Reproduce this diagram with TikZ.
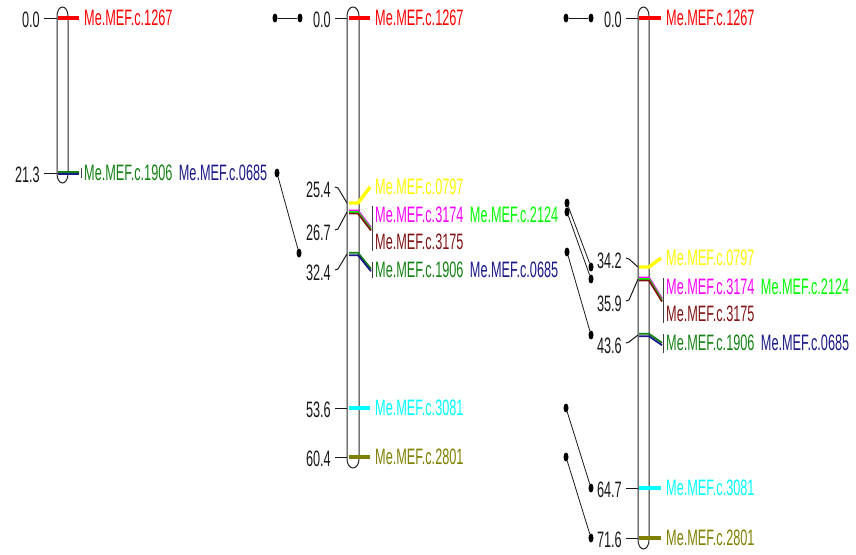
\documentclass[tikz,border=0pt]{standalone}
\usepackage{fontspec}
\setmainfont{Liberation Sans}[FakeStretch=0.57]
\usetikzlibrary{positioning,shapes.geometric}

\definecolor{mkred}{RGB}{255,0,0}
\definecolor{mkgreen}{RGB}{20,130,20}
\definecolor{mknavy}{RGB}{25,25,135}
\definecolor{mkyellow}{RGB}{255,255,0}
\definecolor{mkmagenta}{RGB}{255,0,255}
\definecolor{mklime}{RGB}{0,255,0}
\definecolor{mkbrown}{RGB}{128,20,20}
\definecolor{mkcyan}{RGB}{0,255,255}
\definecolor{mkolive}{RGB}{128,128,0}

\tikzset{
  lg/.style={anchor=west, inner sep=0pt, font=\fontsize{22.3}{24}\selectfont},
  cmpos/.style={anchor=east, inner sep=0pt, text=black!90, font=\fontsize{22.3}{24}\selectfont},
  chrom/.style={draw=black!85, line width=1pt, fill=white},
  mk/.style={line width=3.4pt},
  mkthin/.style={line width=1.8pt},
  tk/.style={line width=1pt, draw=black!90},
  brk/.style={line width=1pt, draw=black!75},
  dot/.style={ellipse, fill=black, inner sep=0pt, minimum width=5pt, minimum height=9pt},
  lnk/.style={line width=0.8pt, draw=black!90},
}

% chromosome bar: left x, right x, bottom y
\newcommand\chrbar[3]{%
  \pgfmathsetmacro\cxm{(#1+#2)/2}%
  \pgfmathsetmacro\kx{0.276*(#2-#1)}%
  \draw[chrom] (#1,16) .. controls (#1,11) and (\cxm-\kx,7) .. (\cxm,7)
    .. controls (\cxm+\kx,7) and (#2,11) .. (#2,16) -- (#2,#3-9)
    .. controls (#2,#3-4) and (\cxm+\kx,#3) .. (\cxm,#3)
    .. controls (\cxm-\kx,#3) and (#1,#3-4) .. (#1,#3-9) -- cycle;}

\begin{document}
\begin{tikzpicture}[x=1pt,y=-1pt]
  \useasboundingbox (0,0) rectangle (856,554);
  %%%%% START %%%%%

  % first map
  \chrbar{57}{68}{183}
  \draw[mk, mkred] (58,18) -- (79,18);
  \draw[mkthin, mkgreen] (58,171.8) -- (79,171.8);
  \draw[mkthin, mknavy] (58,174.2) -- (79,174.2);
  \draw[brk] (81,168) -- (81,178);

  \node[cmpos] (pa0) at (40,19.5) {0.0};
  \draw[tk] (pa0.east) ++(4,-1.5) -- (57,18);
  \node[cmpos] (pa213) at (40,174.5) {21.3};
  \draw[tk] (pa213.east) ++(4,-1.5) -- (57,173);

  \node[lg, text=mkred] (a1267) at (84,18) {Me.MEF.c.1267};
  \node[lg, text=mkgreen] (a1906) at (84,173) {Me.MEF.c.1906};
  \node[lg, text=mknavy, right=6pt of a1906] (a0685) {Me.MEF.c.0685};

  % second map
  \chrbar{347}{359}{468}
  \draw[mk, mkred] (349,18) -- (370,18);
  \draw[mk, mkyellow] (349,203) -- (358,203) -- (370,187);
  \draw[mkthin, mkmagenta] (349,210.5) -- (358,210.5) -- (371,227.5);
  \draw[mkthin, mklime] (349,212) -- (358,212) -- (371,229);
  \draw[mkthin, mkbrown] (349,213.5) -- (358,213.5) -- (371,230.5);
  \draw[brk] (372,206) -- (372,251);
  \draw[mkthin, mkgreen] (349,252.8) -- (358,252.8) -- (371,268.8);
  \draw[mkthin, mknavy] (349,255.2) -- (358,255.2) -- (371,271.2);
  \draw[brk] (372,262) -- (372,278);
  \draw[mk, mkcyan] (349,408) -- (370,408);
  \draw[mk, mkolive] (349,457) -- (370,457);

  \node[cmpos] (pb0) at (331,19.5) {0.0};
  \draw[tk] (pb0.east) ++(4,-1.5) -- (347,18);
  \node[cmpos] (pb254) at (331,190) {25.4};
  \draw[tk] (pb254.east) ++(4,-3) -- ++(3,1) -- (347,203);
  \node[cmpos] (pb267) at (331,233) {26.7};
  \draw[tk] (pb267.east) ++(4,-3) -- ++(3,-1) -- (347,212);
  \node[cmpos] (pb324) at (331,273) {32.4};
  \draw[tk] (pb324.east) ++(4,-3) -- ++(3,-1) -- (347,254);
  \node[cmpos] (pb536) at (331,409.5) {53.6};
  \draw[tk] (pb536.east) ++(4,-1.5) -- (347,408);
  \node[cmpos] (pb604) at (331,458.5) {60.4};
  \draw[tk] (pb604.east) ++(4,-1.5) -- (347,457);

  \node[lg, text=mkred] (b1267) at (375,18) {Me.MEF.c.1267};
  \node[lg, text=mkyellow] (b0797) at (375,187) {Me.MEF.c.0797};
  \node[lg, text=mkmagenta] (b3174) at (375,215) {Me.MEF.c.3174};
  \node[lg, text=mklime, right=6pt of b3174] (b2124) {Me.MEF.c.2124};
  \node[lg, text=mkbrown] (b3175) at (375,242) {Me.MEF.c.3175};
  \node[lg, text=mkgreen] (b1906) at (375,270) {Me.MEF.c.1906};
  \node[lg, text=mknavy, right=6pt of b1906] (b0685) {Me.MEF.c.0685};
  \node[lg, text=mkcyan] (b3081) at (375,408) {Me.MEF.c.3081};
  \node[lg, text=mkolive] (b2801) at (375,457) {Me.MEF.c.2801};

  % third map
  \chrbar{638}{649}{549}
  \draw[mk, mkred] (639,18) -- (661,18);
  \draw[mk, mkyellow] (639,267) -- (649,267) -- (661,258);
  \draw[mkthin, mkmagenta] (639,277.5) -- (649,277.5) -- (662,298.5);
  \draw[mkthin, mklime] (639,279) -- (649,279) -- (662,300);
  \draw[mkthin, mkbrown] (639,280.5) -- (649,280.5) -- (662,301.5);
  \draw[brk] (663,278) -- (663,323);
  \draw[mkthin, mkgreen] (639,333.8) -- (649,333.8) -- (662,342.8);
  \draw[mkthin, mknavy] (639,336.2) -- (649,336.2) -- (662,345.2);
  \draw[brk] (663,334) -- (663,353);
  \draw[mk, mkcyan] (639,488) -- (661,488);
  \draw[mk, mkolive] (639,538) -- (661,538);

  \node[cmpos] (pc0) at (622,19.5) {0.0};
  \draw[tk] (pc0.east) ++(4,-1.5) -- (638,18);
  \node[cmpos] (pc342) at (622,261) {34.2};
  \draw[tk] (pc342.east) ++(4,-3) -- ++(3,1) -- (638,267);
  \node[cmpos] (pc359) at (622,304) {35.9};
  \draw[tk] (pc359.east) ++(4,-3) -- ++(3,-1) -- (638,279);
  \node[cmpos] (pc436) at (622,346) {43.6};
  \draw[tk] (pc436.east) ++(4,-3) -- ++(3,-1) -- (638,335);
  \node[cmpos] (pc647) at (622,489.5) {64.7};
  \draw[tk] (pc647.east) ++(4,-1.5) -- (638,488);
  \node[cmpos] (pc716) at (622,539.5) {71.6};
  \draw[tk] (pc716.east) ++(4,-1.5) -- (638,538);

  \node[lg, text=mkred] (c1267) at (666,18) {Me.MEF.c.1267};
  \node[lg, text=mkyellow] (c0797) at (666,258) {Me.MEF.c.0797};
  \node[lg, text=mkmagenta] (c3174) at (666,287) {Me.MEF.c.3174};
  \node[lg, text=mklime, right=6pt of c3174] (c2124) {Me.MEF.c.2124};
  \node[lg, text=mkbrown] (c3175) at (666,314) {Me.MEF.c.3175};
  \node[lg, text=mkgreen] (c1906) at (666,343) {Me.MEF.c.1906};
  \node[lg, text=mknavy, right=6pt of c1906] (c0685) {Me.MEF.c.0685};
  \node[lg, text=mkcyan] (c3081) at (666,488) {Me.MEF.c.3081};
  \node[lg, text=mkolive] (c2801) at (666,538) {Me.MEF.c.2801};

  % links between maps
  \foreach \xa/\ya/\xb/\yb [count=\i] in {275/18/300/18, 277/173/299/253,
      566/18/591/18, 567/203/591/267, 567/212/591/279, 567/252/591/335,
      566/408/591/488, 566/457/591/538}{
    \node[dot] (u\i) at (\xa,\ya) {};
    \node[dot] (v\i) at (\xb,\yb) {};
    \draw[lnk] (u\i) -- (v\i);
  }

  %%%%% END %%%%%
\end{tikzpicture}
\end{document}
